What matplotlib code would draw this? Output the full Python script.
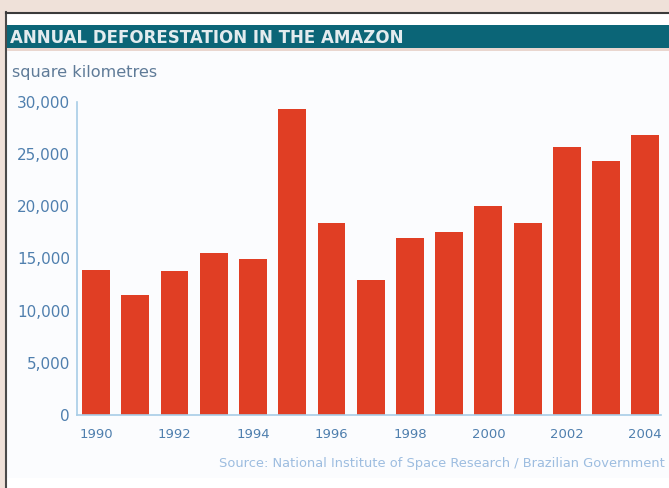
import matplotlib
matplotlib.use("Agg")
import matplotlib.pyplot as plt
from matplotlib.patches import Rectangle
from matplotlib.lines import Line2D

# data
years = list(range(1990, 2005))
area_km2 = [13900, 11500, 13800, 15500, 15000, 29300, 18400, 12900,
            17000, 17500, 20000, 18400, 25700, 24300, 26800]
xtick_years = [1990, 1992, 1994, 1996, 1998, 2000, 2002, 2004]
ytick_vals = [0, 5000, 10000, 15000, 20000, 25000, 30000]

title = "ANNUAL DEFORESTATION IN THE AMAZON"
unit_label = "square kilometres"
source = "Source: National Institute of Space Research / Brazilian Government"

# colours
c_outer = "#efe1d9"
c_panel = "#fbfcfe"
c_teal = "#0b6577"
c_bar = "#e03e24"
c_axis = "#a8cde6"
c_tick = "#4f7fae"
c_unit = "#5f7b98"
c_source = "#9dbde0"

plt.rcParams["font.family"] = ["DejaVu Sans"]

W, H = 669, 488
fig = plt.figure(figsize=(W / 100, H / 100), dpi=100)
fig.patch.set_facecolor(c_outer)


def fx(px):
    return px / W


def fy(py):
    return 1 - py / H


# white panel with dark border (left + top)
fig.add_artist(Rectangle((fx(6), 0), 1 - fx(6), fy(12), transform=fig.transFigure,
                         facecolor="white", edgecolor="none", zorder=0))
fig.add_artist(Rectangle((fx(7), fy(478)), 1 - fx(7), fy(51) - fy(478),
                         transform=fig.transFigure, facecolor=c_panel,
                         edgecolor="none", zorder=0))
fig.add_artist(Line2D([fx(6.5), fx(6.5)], [0, fy(12)], transform=fig.transFigure,
                      color="#4a4a4a", linewidth=1.5, zorder=1))
fig.add_artist(Line2D([fx(6), 1], [fy(12.5), fy(12.5)], transform=fig.transFigure,
                      color="#3a3a3a", linewidth=1.5, zorder=1))

# teal header band
fig.add_artist(Rectangle((fx(7), fy(48)), 1 - fx(7), fy(25) - fy(48),
                         transform=fig.transFigure, facecolor=c_teal,
                         edgecolor="none", zorder=1))
fig.add_artist(Rectangle((fx(7), fy(51)), 1 - fx(7), fy(48) - fy(51),
                         transform=fig.transFigure, facecolor="#e9d6cf",
                         edgecolor="none", zorder=1))
fig.text(fx(10), fy(38), title, color="#e3ecef", fontsize=12,
         fontweight="bold", ha="left", va="center")

fig.text(fx(12), fy(73), unit_label, color=c_unit, fontsize=11.6,
         ha="left", va="center")
fig.text(fx(665), fy(464), source, color=c_source, fontsize=9.4,
         ha="right", va="center")

# bar chart axes
ax = fig.add_axes([fx(77), fy(415), fx(661) - fx(77), fy(102) - fy(415)])
ax.set_facecolor("none")
ax.bar(years, area_km2, width=0.71, color=c_bar, zorder=2)

ax.set_ylim(0, 30000)
ax.set_xlim(1989.515, 2004.4)
ax.set_yticks(ytick_vals)
ax.set_yticklabels([f"{v:,}" for v in ytick_vals])
ax.set_xticks(xtick_years)
ax.set_xticklabels([str(y) for y in xtick_years])
ax.tick_params(axis="y", length=0, pad=5, labelsize=11, labelcolor=c_tick)
ax.tick_params(axis="x", length=0, pad=9, labelsize=9.5, labelcolor=c_tick)

for s in ["top", "right"]:
    ax.spines[s].set_visible(False)
for s in ["left", "bottom"]:
    ax.spines[s].set_color(c_axis)
    ax.spines[s].set_linewidth(1.2)

plt.savefig("out.png", dpi=100, facecolor=fig.get_facecolor())
